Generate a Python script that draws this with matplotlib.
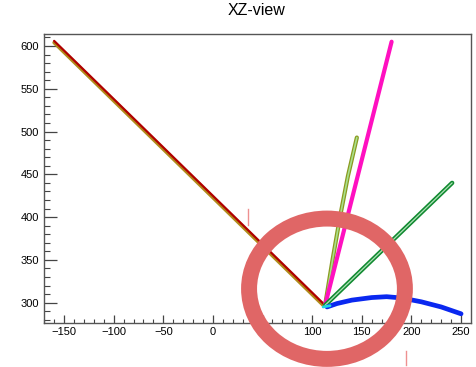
import matplotlib
matplotlib.use("Agg")
import matplotlib.pyplot as plt
from matplotlib.patches import Ellipse
from matplotlib.ticker import MultipleLocator

plt.rcParams['font.family'] = ['Liberation Sans', 'DejaVu Sans']

# Track 1: long muon-like track (reco + fit, nearly overlapping)
trk_red_x = [-160, 113]
trk_red_z = [606, 297]
trk_olive_x = [-160, 112]
trk_olive_z = [604, 296]

# Track 2: steep magenta track
trk_pink_x = [113, 180]
trk_pink_z = [297, 605]

# Track 3: short light-green track (slightly bent)
trk_lgreen_x = [113, 120.5, 128, 136, 145]
trk_lgreen_z = [297, 350, 400, 448, 493]

# Track 4: dark-green track
trk_dgreen_x = [113, 241]
trk_dgreen_z = [297, 440]

# Track 5: blue curved track
trk_blue_x = [115, 125, 140, 160, 175, 190, 210, 230, 250]
trk_blue_z = [295, 299, 303, 306, 307, 305.5, 301, 295, 287]

# Vertex stub
vtx_x = [111, 118]
vtx_z = [295, 296.5]

# Highlight ring and marker ticks
ring_center = (114.9, 316.3)
ring_width = 157
ring_height = 164
mark1_x = [35.7, 35.7]
mark1_z = [409.5, 390.8]
mark2_x = [194.6, 194.6]
mark2_z = [243.9, 227.0]

fig = plt.figure(figsize=(4.77, 3.67), dpi=100)
ax = fig.add_axes([0.0912, 0.1207, 0.8956, 0.788])

ax.plot(trk_olive_x, trk_olive_z, color='#b08a1a', lw=2.6, solid_capstyle='round')
ax.plot(trk_red_x, trk_red_z, color='#b00000', lw=1.6, solid_capstyle='round')

ax.plot(trk_lgreen_x, trk_lgreen_z, color='#8a9a20', lw=3.0, solid_capstyle='round')
ax.plot(trk_lgreen_x, trk_lgreen_z, color='#a8e08a', lw=1.2, solid_capstyle='round')

ax.plot(trk_pink_x, trk_pink_z, color='#ff10c0', lw=3.0, solid_capstyle='round')

ax.plot(trk_dgreen_x, trk_dgreen_z, color='#108a30', lw=3.2, solid_capstyle='round')
ax.plot(trk_dgreen_x, trk_dgreen_z, color='#b0e0b8', lw=0.9, solid_capstyle='round')

ax.plot(trk_blue_x, trk_blue_z, color='#0a28f0', lw=3.4, solid_capstyle='round')
ax.plot(vtx_x, vtx_z, color='#20d8e0', lw=2.0, solid_capstyle='round')

ax.set_xlim(-170.7, 259.7)
ax.set_ylim(276.6, 614.6)

ax.xaxis.set_major_locator(MultipleLocator(50))
ax.xaxis.set_minor_locator(MultipleLocator(10))
ax.yaxis.set_major_locator(MultipleLocator(50))
ax.yaxis.set_minor_locator(MultipleLocator(10))

ax.tick_params(axis='x', which='major', direction='in', length=6, width=0.9,
               color='#444444', labelsize=8, pad=3, top=False)
ax.tick_params(axis='x', which='minor', direction='in', length=3, width=0.8,
               color='#444444', top=False)
ax.tick_params(axis='y', which='major', direction='in', length=9, width=0.9,
               color='#444444', labelsize=8, pad=3, right=False)
ax.tick_params(axis='y', which='minor', direction='in', length=4.5, width=0.8,
               color='#444444', right=False)
for s in ax.spines.values():
    s.set_color('#555555')
    s.set_linewidth(1.0)

fig.text(0.537, 0.972, 'XZ-view', fontsize=11.5, ha='center', va='center')

ring = Ellipse(ring_center, ring_width, ring_height, fill=False,
               edgecolor='#e06666', lw=11.5, clip_on=False, zorder=10)
ax.add_patch(ring)
ax.plot(mark1_x, mark1_z, color='#ee9090', lw=1.0, clip_on=False, zorder=9)
ax.plot(mark2_x, mark2_z, color='#ee9090', lw=1.0, clip_on=False, zorder=9)

fig.savefig('out.png', dpi=100)
